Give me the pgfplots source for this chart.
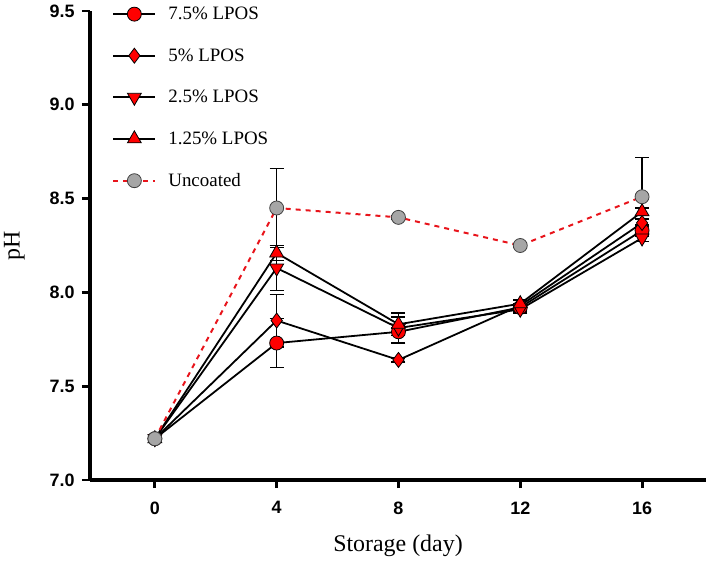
\documentclass[border=0pt]{standalone}
\usepackage{pgfplots}
\pgfplotsset{compat=1.18}
\usepackage{fontspec}
\setmainfont{Liberation Serif}
\setsansfont{Liberation Sans}
\definecolor{mred}{HTML}{FF0000}
\definecolor{dred}{HTML}{E8141B}
\definecolor{mgray}{HTML}{A6A6A6}
\definecolor{egray}{HTML}{404040}
\begin{document}
\begin{tikzpicture}
\begin{axis}[
  at={(0bp,0bp)}, anchor=south west,
  scale only axis, width=616bp, height=469bp,
  xmin=-2.13, xmax=18.1, ymin=7, ymax=9.5,
  axis x line*=bottom, axis y line*=left,
  axis line style={line width=3.2pt, -},
  xtick={0,4,8,12,16}, ytick={7,7.5,8,8.5,9,9.5},
  tick style={line width=3pt, black},
  tick align=outside, major tick length=8bp,
  yticklabel style={xshift=-4bp, /pgf/number format/.cd, fixed, fixed zerofill, precision=1},
  /pgf/number format/assume math mode=true,
  ticklabel style={font=\fontsize{18}{20}\selectfont\sffamily\bfseries},
  xticklabel style={yshift=-10bp},
  xlabel={Storage (day)}, ylabel={pH},
  label style={font=\fontsize{24}{26}\selectfont},
  xlabel style={yshift=-14bp},
  ylabel style={yshift=18bp},
  clip=false,
  every axis plot/.append style={line width=1.8pt},
  error bars/error bar style={line width=1.5pt, black, solid},
  error bars/error mark options={rotate=90, mark size=7bp, line width=1.5pt, black, solid},
  legend style={draw=none, fill=none, at={(rel axis cs:0.036,1.013)}, anchor=north west,
    font=\fontsize{19}{21}\selectfont, row sep=23.5bp, inner sep=0pt},
  legend cell align=left,
  legend image code/.code={\draw[mark repeat=2,mark phase=2,#1] plot coordinates {(0bp,0bp) (21bp,0bp) (42bp,0bp)};\path (52bp,0bp);},
]
\addplot[black, mark=*, mark size=7bp, mark options={fill=mred, draw=black, line width=0.8pt, solid},
  error bars/.cd, y dir=both, y explicit]
  table[x=x, y=y, y error=e] {
x y e
0 7.22 0.02
4 7.73 0.13
8 7.79 0.02
12 7.92 0.02
16 8.33 0.03
};
\addlegendentry{7.5\% LPOS}
\addplot[black, mark=diamond*, mark size=7.5bp, mark options={fill=mred, draw=black, line width=0.8pt, solid},
  error bars/.cd, y dir=both, y explicit]
  table[x=x, y=y, y error=e] {
x y e
0 7.22 0.02
4 7.85 0.14
8 7.64 0.01
12 7.93 0.01
16 8.37 0.02
};
\addlegendentry{5\% LPOS}
\addplot[black, mark=triangle*, mark size=8bp, mark options={rotate=180, fill=mred, draw=black, line width=0.8pt, solid},
  error bars/.cd, y dir=both, y explicit]
  table[x=x, y=y, y error=e] {
x y e
0 7.22 0.02
4 8.13 0.12
8 7.81 0.08
12 7.91 0.02
16 8.29 0.02
};
\addlegendentry{2.5\% LPOS}
\addplot[black, mark=triangle*, mark size=8bp, mark options={fill=mred, draw=black, line width=0.8pt, solid},
  error bars/.cd, y dir=both, y explicit]
  table[x=x, y=y, y error=e] {
x y e
0 7.22 0.02
4 8.21 0.04
8 7.83 0.04
12 7.94 0.02
16 8.43 0.02
};
\addlegendentry{1.25\% LPOS}
\addplot[dred, line width=2pt, dash pattern=on 5bp off 5bp, mark=*, mark size=7bp,
  mark options={fill=mgray, draw=egray, line width=0.8pt, solid},
  error bars/.cd, y dir=both, y explicit]
  table[x=x, y=y, y error=e] {
x y e
0 7.22 0.02
4 8.45 0.21
8 8.40 0.01
12 8.25 0.01
16 8.51 0.21
};
\addlegendentry{Uncoated}
\end{axis}
\useasboundingbox (-90bp,-80bp) rectangle (619bp,480bp);
\end{tikzpicture}
\end{document}
